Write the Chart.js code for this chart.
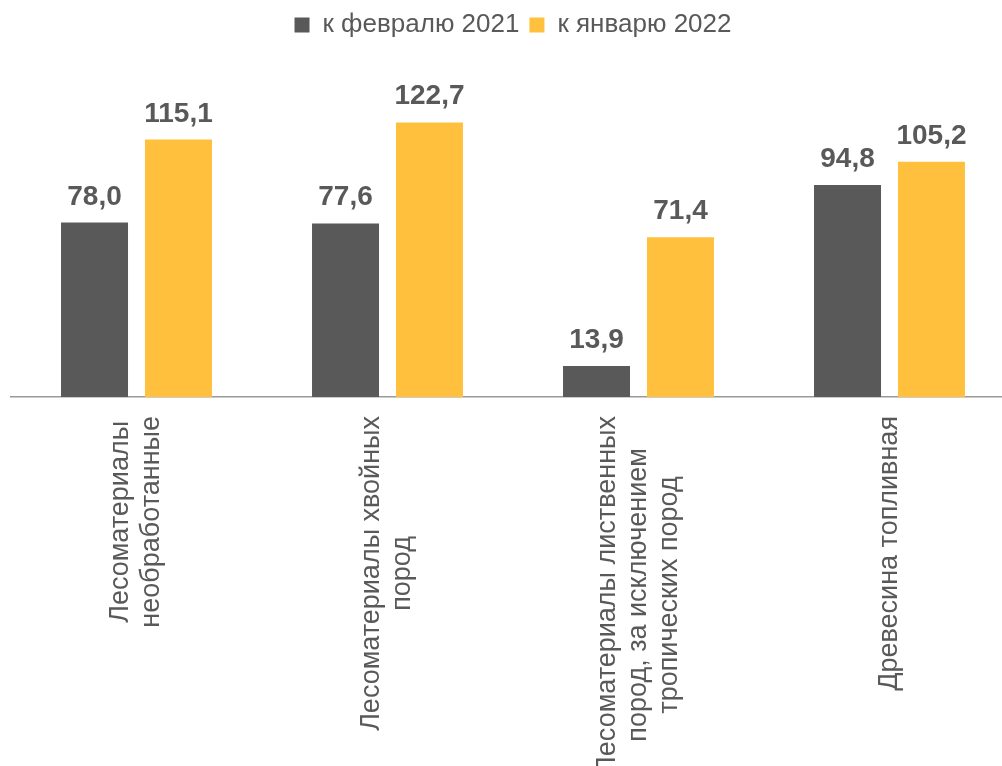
<!DOCTYPE html>
<html>
<head>
<meta charset="utf-8">
<script src="https://cdn.jsdelivr.net/npm/chart.js@4.4.1/dist/chart.umd.min.js"></script>
<style>
  html, body { margin: 0; padding: 0; background: #ffffff; overflow: hidden; }
  #wrap { width: 1015px; height: 766px; }
</style>
</head>
<body>
<div id="wrap"><canvas id="c" width="1015" height="766"></canvas></div>
<script>
const categories = [
  ["Лесоматериалы", "необработанные"],
  ["Лесоматериалы хвойных", "пород"],
  ["Лесоматериалы лиственных", "пород, за исключением", "тропических пород"],
  ["Древесина топливная"]
];
const seriesNames = ["к февралю 2021", "к январю 2022"];
const feb2021 = [78.0, 77.6, 13.9, 94.8];
const jan2022 = [115.1, 122.7, 71.4, 105.2];

const FONT = '"Liberation Sans", Arial, sans-serif';
const TEXT = '#595959';

const fmt = v => v.toFixed(1).replace('.', ',');

const valueLabels = {
  id: 'valueLabels',
  afterDatasetsDraw(chart) {
    const ctx = chart.ctx;
    ctx.save();
    ctx.font = 'bold 28px ' + FONT;
    ctx.fillStyle = TEXT;
    ctx.textAlign = 'center';
    ctx.textBaseline = 'alphabetic';
    chart.data.datasets.forEach((ds, di) => {
      const meta = chart.getDatasetMeta(di);
      meta.data.forEach((bar, i) => {
        ctx.fillText(fmt(ds.data[i]), bar.x, bar.y - 18);
      });
    });
    ctx.restore();
  }
};

const catLabels = {
  id: 'catLabels',
  afterDraw(chart) {
    const ctx = chart.ctx;
    const xs = chart.scales.x;
    const top = chart.chartArea.bottom + 19;
    const lh = 31;
    ctx.save();
    ctx.font = '27px ' + FONT;
    ctx.fillStyle = TEXT;
    ctx.textAlign = 'center';
    ctx.textBaseline = 'middle';
    categories.forEach((lines, i) => {
      const x = xs.getPixelForValue(i);
      const maxW = Math.max(...lines.map(l => ctx.measureText(l).width));
      ctx.save();
      ctx.translate(x, top);
      ctx.rotate(-Math.PI / 2);
      lines.forEach((l, j) => {
        ctx.fillText(l, -maxW / 2, (j - (lines.length - 1) / 2) * lh);
      });
      ctx.restore();
    });
    ctx.restore();
  }
};

new Chart(document.getElementById('c'), {
  type: 'bar',
  data: {
    labels: categories.map(c => c.join(' ')),
    datasets: [
      { label: seriesNames[0], data: feb2021, backgroundColor: '#595959', borderWidth: 0,
        categoryPercentage: 0.669, barPercentage: 0.798 },
      { label: seriesNames[1], data: jan2022, backgroundColor: '#FFC13D', borderWidth: 0,
        categoryPercentage: 0.669, barPercentage: 0.798 }
    ]
  },
  options: {
    responsive: false,
    animation: false,
    devicePixelRatio: 1,
    layout: { padding: { left: 11, right: 0, top: 2, bottom: 361 } },
    plugins: {
      legend: {
        display: true,
        position: 'top',
        labels: {
          boxWidth: 15, boxHeight: 15, padding: 10,
          color: TEXT,
          font: { family: FONT, size: 26 }
        }
      },
      tooltip: { enabled: false }
    },
    scales: {
      x: {
        grid: { display: false },
        ticks: { display: false },
        border: { display: true, color: '#999999', width: 1.5 }
      },
      y: {
        display: false,
        min: 0,
        max: 156
      }
    }
  },
  plugins: [valueLabels, catLabels]
});
</script>
</body>
</html>
